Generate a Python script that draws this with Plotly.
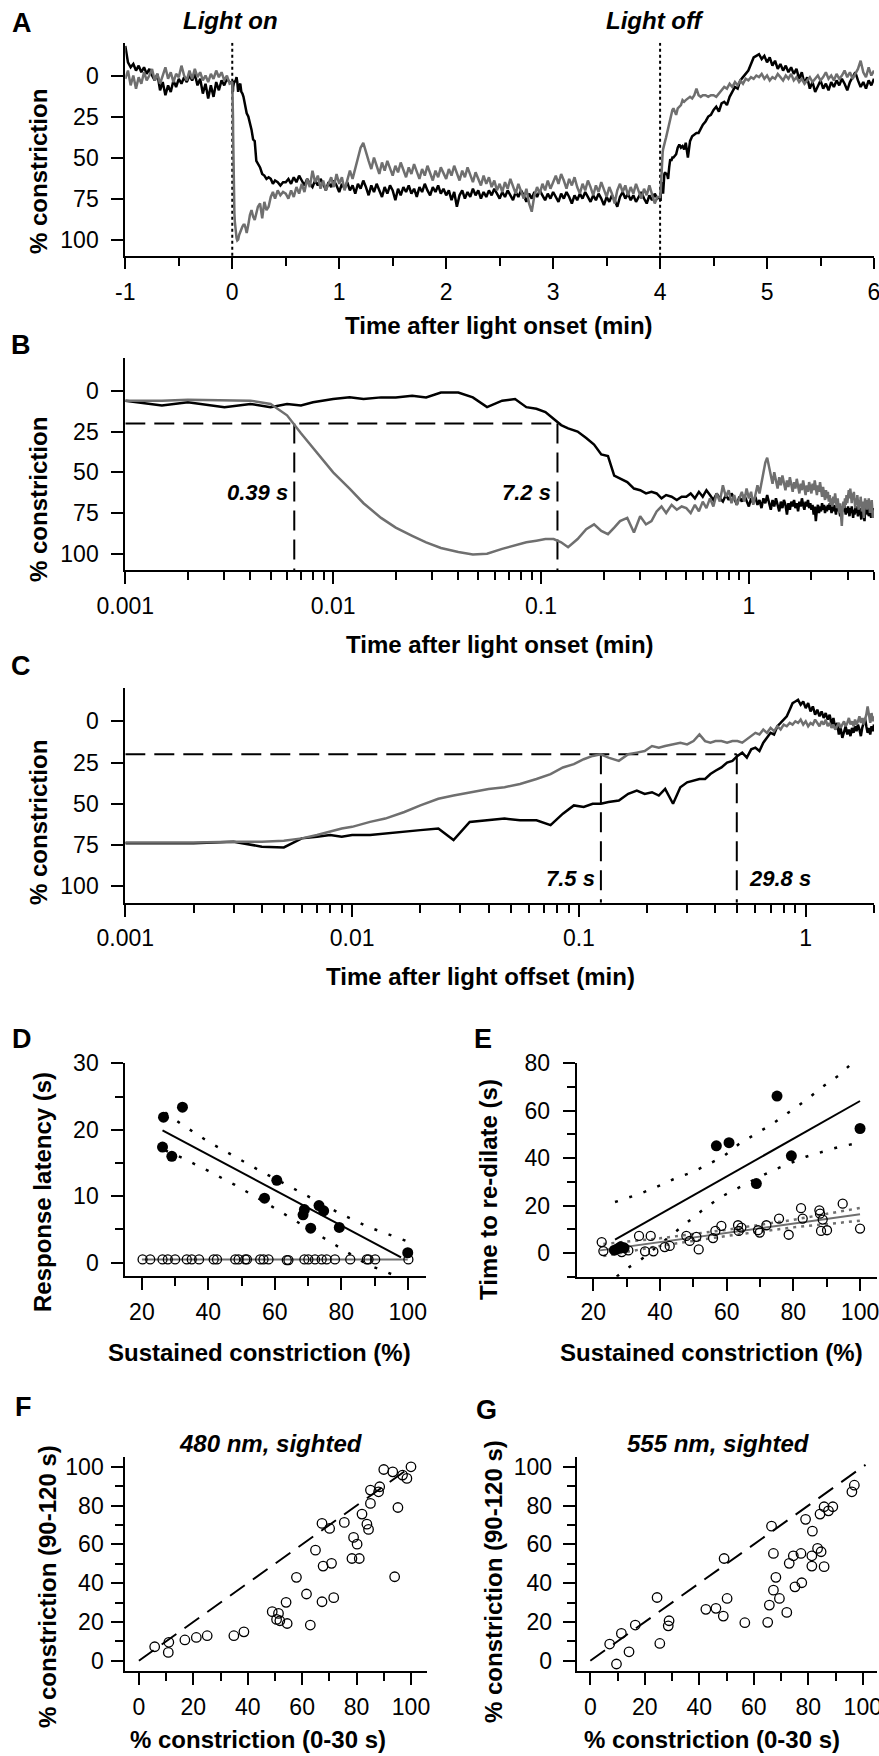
import numpy as np
import plotly.graph_objects as go

W, H = 879, 1756
FONT = "Liberation Sans, Arial, sans-serif"
GRAY = "#6f6f6f"

# ---------------- Panels A-C : pupil traces (time in min, % constriction) ----------------
t_pre = np.linspace(-1.0, -0.025, 40)
on_offsets = [0, 0.001, 0.0015, 0.002, 0.003, 0.004, 0.005, 0.006, 0.007, 0.008,
              0.009, 0.01, 0.012, 0.014, 0.017, 0.02, 0.024, 0.028, 0.033, 0.04,
              0.047, 0.055, 0.065, 0.075, 0.085, 0.095, 0.105, 0.115, 0.125, 0.135,
              0.15, 0.165, 0.18, 0.195, 0.21, 0.225, 0.24, 0.26, 0.28, 0.3,
              0.32, 0.34, 0.36, 0.38, 0.4, 0.425, 0.45, 0.475]
t_mid = np.linspace(0.5, 3.975, 140)
t_post = np.linspace(4.5, 6.0, 61)
LIGHT_OFF = 4.0

black_pre = [-18, -8, -5, -7, -3, -6, -2, -5, -1, -4,
             0, 3, -1, 9, 4, 12, 6, 10, 3, 7,
             2, 5, 1, 4, 0, 3, -1, 6, 2, 11,
             5, 14, 6, 13, 4, 9, 3, 6, 2, 4]
gray_pre = [2, -3, 6, 0, 8, 1, 5, -2, 3, 0,
            -4, 3, -1, 5, 0, -5, 2, -2, 4, -1,
            1, -6, 0, 3, -3, 2, -4, 1, -2, 3,
            0, 4, -1, 2, -3, 1, -2, 3, 0, 5]
black_on = [5, 6, 9, 7, 10, 8, 10, 8, 9, 7,
            6, 5, 4, 5, 4, 4, 3, 4, 1, 1,
            4, 10, 6, 5, 10, 11, 13, 17, 21, 23,
            25, 29, 33, 39, 40, 52, 54, 56, 60, 61,
            63, 62, 63, 66, 64, 65, 67, 65]
gray_on = [4, 6, 6, 5.5, 6, 6, 8, 15, 26, 35,
           43, 50, 60, 69, 78, 84, 89, 93, 96.5, 99,
           100.5, 100, 97, 95, 93, 92, 91, 91, 93, 96,
           91, 85, 82, 86, 88, 84, 80, 78, 87, 77,
           82, 80, 74, 71, 75, 70, 73, 71]
black_mid = [65, 63, 66, 62, 65, 61, 64, 67, 63, 66,
             68, 64, 67, 63, 66, 70, 65, 68, 64, 67,
             71, 66, 69, 65, 70, 67, 72, 66, 69, 64,
             68, 73, 67, 71, 66, 70, 74, 68, 72, 67,
             70, 76, 69, 73, 68, 71, 67, 72, 69, 74,
             68, 71, 66, 70, 73, 68, 71, 67, 72, 69,
             73, 70, 76, 71, 80, 73, 70, 75, 71, 74,
             69, 73, 70, 75, 71, 74, 70, 73, 69, 72,
             75, 71, 74, 70, 73, 76, 71, 74, 70, 73,
             77, 72, 75, 71, 74, 70, 73, 76, 72, 75,
             71, 74, 77, 72, 75, 71, 74, 78, 73, 76,
             72, 75, 71, 74, 77, 73, 76, 72, 75, 79,
             74, 77, 73, 76, 80, 74, 71, 75, 72, 76,
             73, 77, 74, 71, 75, 78, 73, 76, 72, 75]
gray_mid = [72, 75, 70, 74, 68, 72, 66, 71, 63, 68,
            58, 65, 61, 69, 64, 70, 66, 62, 68, 60,
            66, 62, 70, 64, 58, 63, 56, 50, 44, 41,
            47, 52, 57, 50, 55, 60, 53, 58, 52, 57,
            61, 55, 59, 53, 57, 62, 56, 60, 54, 59,
            63, 57, 61, 55, 60, 64, 58, 62, 56, 60,
            63, 57, 61, 55, 60, 64, 58, 62, 56, 61,
            65, 59, 63, 67, 61, 66, 62, 68, 64, 70,
            66, 71, 65, 69, 63, 68, 72, 66, 70, 75,
            69, 78, 83, 73, 68, 72, 66, 70, 64, 69,
            65, 61, 66, 60, 64, 69, 63, 67, 62, 68,
            72, 66, 70, 64, 68, 73, 67, 71, 65, 70,
            74, 68, 72, 78, 70, 66, 71, 67, 73, 68,
            72, 66, 70, 75, 69, 73, 67, 72, 78, 74]
black_off = [74, 74, 74, 74, 73, 76, 76.5, 71, 70, 69,
             70, 69, 69, 68, 67, 66, 65, 72, 61, 60,
             59, 60, 60, 63, 56, 51, 52, 50, 50, 49,
             48, 44, 42, 44, 43, 45, 41, 50, 40, 37,
             36, 35, 35, 32, 30, 28, 25, 24]
gray_off = [74, 73.5, 73.5, 73.5, 73, 73, 72.5, 71, 69, 67,
            65, 64, 61, 59, 55, 51, 47, 45, 43, 41,
            40, 38, 35, 32, 28, 26, 23, 21, 20, 22,
            24, 20, 19, 18, 15, 16, 15, 14, 13, 14,
            12, 8, 12, 13, 12, 12, 13, 12]
black_post = [21, 19, 22, 17, 16, 18, 13, 10, 7, 8,
              3, 1, -1, -3, -7, -11, -12, -13, -10, -12,
              -8, -11, -6, -9, -4, -7, -3, -6, -2, -5,
              -1, -4, 2, -2, 5, 1, 8, 4, 10, 6,
              3, 8, 5, 9, 4, 7, 3, 6, 2, 5,
              9, 4, 1, -2, 3, 7, 4, 8, 3, 6,
              2]
gray_post = [12, 13, 11, 9, 7, 8, 5, 7, 4, 6,
             3, 5, 2, 3, 1, 2, 0, 1, -1, 2,
             0, 3, 1, 2, -1, 1, 3, 0, 2, -1,
             3, 1, 4, 2, 5, 3, 1, 4, 2, 0,
             3, 1, -2, 2, 0, 3, -1, 2, 0, -3,
             1, -2, 2, -1, -4, -9, -2, 1, -5, 0,
             -3]

threshold = 20                 # % constriction criterion
onset_latency_s = [0.39, 7.2]  # gray, black (B)
offset_latency_s = [7.5, 29.8] # gray, black (C)

t_all = np.concatenate([t_pre, np.array(on_offsets), t_mid,
                        LIGHT_OFF + np.array(on_offsets), t_post])
black_all = np.array(black_pre + black_on + black_mid + black_off + black_post, float)
gray_all = np.array(gray_pre + gray_on + gray_mid + gray_off + gray_post, float)

# ---------------- Panel D ----------------
d_closed_x = [26.2, 26.5, 29.0, 32.2, 56.9, 60.6, 68.9, 68.5, 70.8, 73.3, 74.7, 79.4, 100]
d_closed_y = [17.4, 21.9, 16.0, 23.4, 9.7, 12.4, 8.0, 7.2, 5.2, 8.6, 7.8, 5.3, 1.5]
d_open_x = [20.2, 22.5, 26.2, 27.8, 30.0, 33.5, 35.0, 37.2, 41.6, 42.6, 48.1, 49.1, 51.1, 51.6,
            55.6, 56.6, 58.1, 63.6, 64.1, 68.9, 70.1, 72.1, 74.1, 75.6, 78.1, 82.7, 87.7, 88.2,
            90.2, 100.2]
d_open_y = [0.5, 0.5, 0.5, 0.5, 0.5, 0.5, 0.5, 0.5, 0.5, 0.5, 0.5, 0.5, 0.5, 0.5,
            0.5, 0.5, 0.5, 0.4, 0.4, 0.5, 0.5, 0.5, 0.5, 0.5, 0.5, 0.5, 0.5, 0.5,
            0.5, 0.5]
d_fit_x, d_fit_y = [26.2, 98.0], [19.9, 0.8]
d_up_x = [27, 32, 40, 48, 56, 64, 72, 80, 88, 96, 100]
d_up_y = [22.6, 20.8, 18.2, 15.9, 13.7, 11.6, 9.4, 7.3, 5.4, 3.9, 3.2]
d_lo_x = [27, 32, 40, 48, 56, 64, 72, 80, 88, 96.5]
d_lo_y = [16.9, 15.8, 13.8, 11.7, 9.4, 7.0, 4.6, 2.2, -0.3, -2.0]
d_gfit_x, d_gfit_y = [20, 100], [0.5, 0.5]

# ---------------- Panel E ----------------
e_closed_x = [26.3, 27.3, 28.2, 29.2, 56.9, 60.7, 68.9, 75.1, 79.4, 100.0]
e_closed_y = [1.2, 1.8, 2.6, 2.2, 45.2, 46.5, 29.3, 66.2, 41.0, 52.5]
e_open_x = [22.5, 23.0, 28.0, 28.5, 30.5, 33.7, 35.5, 37.2, 38.0, 41.4, 42.9, 47.9, 48.9, 50.9,
            51.6, 55.9, 56.6, 58.4, 63.4, 63.6, 64.4, 69.4, 69.9, 71.9, 75.7, 78.6, 82.3, 82.8,
            87.8, 88.0, 88.3, 90.1, 88.8, 94.8, 100.0]
e_open_y = [4.6, 0.8, 2.5, 0.4, 1.1, 7.2, 0.7, 7.2, 0.7, 2.5, 3.0, 7.2, 5.1, 6.8,
            1.5, 6.3, 9.3, 11.4, 11.7, 9.3, 10.7, 9.6, 8.6, 11.7, 14.5, 7.7, 18.9, 14.5,
            18.0, 16.6, 9.3, 9.6, 14.1, 20.8, 10.3]
e_fit_x, e_fit_y = [26.5, 100], [5.6, 64.1]
e_up_x = [26.5, 30, 34, 39, 44, 49.9, 53.9, 58.9, 63.9, 68.9, 73.9, 78.9, 83.8, 88.8, 93.8, 97.8]
e_up_y = [21.5, 23.0, 25.0, 27.9, 31.1, 34.2, 37.0, 40.6, 46.2, 50.4, 54.6, 59.6, 64.5, 70.1, 75.1, 80.3]
e_lo_x = [27, 30, 34, 39, 44, 48.9, 53.9, 58.9, 63.9, 68.9, 73.9, 78.9, 83.8, 88.8, 93.8, 98.8]
e_lo_y = [-10, -6.6, -3.1, 2.5, 8.2, 13.8, 19.4, 24.1, 27.9, 31.4, 34.9, 37.7, 40.6, 42.7, 44.8, 46.2]
e_gfit_x, e_gfit_y = [22, 100], [1.1, 16.3]
e_gup_x, e_gup_y = [23, 40, 60, 80, 100], [3.8, 6.2, 9.8, 14.0, 19.0]
e_glo_x, e_glo_y = [23, 40, 60, 80, 100], [-1.3, 3.0, 7.2, 10.8, 13.6]

# ---------------- Panel F (480 nm) ----------------
f_x = [5.8, 11.0, 10.8, 16.9, 21.1, 25.1, 34.9, 38.6, 49.0, 51.3, 50.6, 51.8, 54.5, 54.1,
       57.9, 61.6, 63.0, 64.9, 67.3, 67.7, 67.3, 70.1, 70.8, 71.6, 75.5, 78.3, 78.9, 80.2,
       81.0, 82.0, 83.8, 84.4, 85.1, 85.1, 88.1, 88.5, 90.0, 93.3, 94.0, 95.2, 96.9, 98.5, 100]
f_y = [7.2, 9.5, 4.3, 10.7, 12.0, 12.9, 12.9, 14.9, 25.3, 24.4, 21.3, 20.6, 19.2, 30.1,
       43.0, 34.4, 18.4, 57.0, 30.4, 48.8, 70.8, 68.2, 50.2, 32.5, 71.3, 52.7, 63.6, 60.1,
       52.7, 75.6, 70.4, 67.7, 81.1, 88.0, 87.1, 89.7, 98.6, 97.4, 43.3, 79.0, 95.7, 94.0, 100]

# ---------------- Panel G (555 nm) ----------------
g_x = [7.1, 9.6, 11.4, 14.2, 16.5, 24.5, 25.5, 28.6, 28.9, 42.4, 46.1, 48.8, 49.1, 50.2,
       56.7, 65.1, 65.7, 66.5, 67.2, 67.2, 68.1, 69.4, 72.1, 73.0, 74.5, 75.1, 77.3, 77.6,
       79.0, 81.3, 81.3, 81.5, 83.4, 84.3, 84.7, 85.8, 85.8, 87.4, 89.0, 96.0, 96.9]
g_y = [8.6, -1.7, 14.1, 4.6, 18.4, 32.6, 8.9, 18.0, 20.6, 26.5, 27.0, 23.0, 52.7, 32.1,
       19.6, 19.8, 28.7, 69.4, 55.3, 36.4, 43.0, 32.1, 24.9, 50.2, 54.1, 38.1, 55.3, 40.2,
       72.9, 54.1, 48.8, 66.8, 57.9, 75.6, 56.2, 48.5, 79.4, 77.3, 79.4, 87.1, 90.5]
f_unity = [0, 100]
g_unity = [0, 101]

a_ticks = [-1, 0, 1, 2, 3, 4, 5, 6]
a_ticktext = ["-1", "0", "1", "2", "3", "4", "5", "6"]

# ======================= figure =======================
def dx(a, b):
    return [a / W, b / W]

def dy(top, bottom):
    return [1 - bottom / H, 1 - top / H]

TICKFONT = dict(family=FONT, size=23, color="black")
MINOR = dict(ticks="outside", ticklen=8, tickwidth=2, tickcolor="black", showgrid=False)
XSO = 2  # x tick label standoff

def axis(**kw):
    base = dict(showline=True, linecolor="black", linewidth=2, ticks="outside", ticklen=12,
                tickwidth=2, tickcolor="black", showgrid=False, zeroline=False,
                tickfont=TICKFONT, mirror=False, automargin=False, ticklabeloverflow="allow")
    base.update(kw)
    return base

def log_minor(lo_dec, hi):
    vals = []
    for d in range(lo_dec, 1):
        for m in range(2, 10):
            v = m * 10.0 ** d
            if v <= hi * 1.0001:
                vals.append(v)
    return vals

fig = go.Figure()

def line(x, y, ax, color="black", width=2, dash="solid"):
    fig.add_trace(go.Scatter(x=list(x), y=list(y), mode="lines", xaxis="x" + ax, yaxis="y" + ax,
                             line=dict(color=color, width=width, dash=dash), hoverinfo="skip"))

def pts(x, y, ax, filled, size):
    if filled:
        mk = dict(symbol="circle", size=size, color="black", line=dict(color="black", width=0))
    else:
        mk = dict(symbol="circle", size=size, color="rgba(255,255,255,0)",
                  line=dict(color="black", width=1.3))
    fig.add_trace(go.Scatter(x=x, y=y, mode="markers", xaxis="x" + ax, yaxis="y" + ax,
                             marker=mk, hoverinfo="skip"))

TW = 2.5  # trace width

# ---- A ----
for tv in [0.0, LIGHT_OFF]:
    line([tv, tv], [-20, 110], "", width=2, dash="dot")
line(t_all, black_all, "", "black", TW)
line(t_all, gray_all, "", GRAY, TW)

# ---- B ----
mB = (t_all > 0) & (t_all <= 4.0)
lat_on = [s / 60 for s in onset_latency_s]
line([0.001, lat_on[1]], [threshold, threshold], "2", width=2, dash="20px,9px")
for lv in lat_on:
    line([lv, lv], [threshold, 110], "2", width=2, dash="20px,9px")
line(t_all[mB], black_all[mB], "2", "black", TW)
line(t_all[mB], gray_all[mB], "2", GRAY, TW)

# ---- C ----
mC = t_all > LIGHT_OFF
t_rel = t_all[mC] - LIGHT_OFF
lat_off = [s / 60 for s in offset_latency_s]
line([0.001, lat_off[1]], [threshold, threshold], "3", width=2, dash="20px,9px")
for lv in lat_off:
    line([lv, lv], [threshold, 110], "3", width=2, dash="20px,9px")
line(t_rel, black_all[mC], "3", "black", TW)
line(t_rel, gray_all[mC], "3", GRAY, TW)

# ---- D ----
line(d_up_x, d_up_y, "4", width=2.5, dash="3px,12px")
line(d_lo_x, d_lo_y, "4", width=2.5, dash="3px,12px")
line(d_fit_x, d_fit_y, "4", width=2)
line(d_gfit_x, d_gfit_y, "4", GRAY, 2)
pts(d_open_x, d_open_y, "4", False, 9)
pts(d_closed_x, d_closed_y, "4", True, 11)

# ---- E ----
line(e_up_x, e_up_y, "5", width=2.5, dash="3px,12px")
line(e_lo_x, e_lo_y, "5", width=2.5, dash="3px,12px")
line(e_fit_x, e_fit_y, "5", width=2)
line(e_gup_x, e_gup_y, "5", GRAY, 2.5, "3px,5px")
line(e_glo_x, e_glo_y, "5", GRAY, 2.5, "3px,5px")
line(e_gfit_x, e_gfit_y, "5", GRAY, 2)
pts(e_open_x, e_open_y, "5", False, 9)
pts(e_closed_x, e_closed_y, "5", True, 11)

# ---- F, G ----
line(f_unity, f_unity, "6", width=2, dash="18px,10px")
pts(f_x, f_y, "6", False, 9.5)
line(g_unity, g_unity, "7", width=2, dash="18px,10px")
pts(g_x, g_y, "7", False, 9.5)

TRACE_Y = dict(range=[110, -20], tickmode="array", tickvals=[0, 25, 50, 75, 100],
               ticklabelstandoff=8)

fig.update_layout(
    template="none",
    width=W, height=H, margin=dict(l=0, r=0, t=0, b=0, pad=0, autoexpand=False),
    paper_bgcolor="white", plot_bgcolor="white", showlegend=False,
    font=dict(family=FONT, color="black"),
    xaxis=axis(domain=dx(125.3, 874), anchor="y", range=[-1, 6], tickmode="array",
               tickvals=a_ticks, ticktext=a_ticktext, ticklen=11, ticklabelstandoff=XSO + 1,
               minor=dict(MINOR, dtick=0.5, tick0=-1)),
    yaxis=axis(domain=dy(42.7, 256), anchor="x", **TRACE_Y),
    xaxis2=axis(domain=dx(125.3, 874), anchor="y2", type="log", range=[-3, np.log10(4)],
                tickmode="array", tickvals=[0.001, 0.01, 0.1, 1],
                ticktext=["0.001", "0.01", "0.1", "1"], ticklabelstandoff=XSO,
                minor=dict(MINOR, tickmode="array", tickvals=log_minor(-3, 4))),
    yaxis2=axis(domain=dy(358.3, 570), anchor="x2", **TRACE_Y),
    xaxis3=axis(domain=dx(125.3, 874), anchor="y3", type="log", range=[-3, np.log10(2)],
                tickmode="array", tickvals=[0.001, 0.01, 0.1, 1],
                ticktext=["0.001", "0.01", "0.1", "1"], ticklabelstandoff=XSO,
                minor=dict(MINOR, tickmode="array", tickvals=log_minor(-3, 2))),
    yaxis3=axis(domain=dy(688.3, 902.7), anchor="x3", **TRACE_Y),
    xaxis4=axis(domain=dx(125.3, 426), anchor="y4", range=[15, 105.5], tickmode="linear",
                tick0=20, dtick=20, ticklabelstandoff=XSO, minor=dict(MINOR, dtick=10, tick0=20)),
    yaxis4=axis(domain=dy(1063.3, 1276), anchor="x4", range=[-2, 30], tickmode="linear",
                tick0=0, dtick=10, ticklabelstandoff=8, minor=dict(MINOR, dtick=5, tick0=0)),
    xaxis5=axis(domain=dx(576.7, 876.7), anchor="y5", range=[15, 105], tickmode="linear",
                tick0=20, dtick=20, ticklabelstandoff=XSO, minor=dict(MINOR, dtick=10, tick0=20)),
    yaxis5=axis(domain=dy(1063.3, 1276.7), anchor="x5", range=[-10, 80], tickmode="linear",
                tick0=0, dtick=20, ticklabelstandoff=8, minor=dict(MINOR, dtick=10, tick0=0)),
    xaxis6=axis(domain=dx(125.3, 427.3), anchor="y6", range=[-5, 106], tickmode="linear",
                tick0=0, dtick=20, ticklabelstandoff=XSO, minor=dict(MINOR, dtick=10, tick0=0)),
    yaxis6=axis(domain=dy(1456.7, 1671), anchor="x6", range=[-5.3, 105.2], tickmode="linear",
                tick0=0, dtick=20, ticklabelstandoff=3, minor=dict(MINOR, dtick=10, tick0=0)),
    xaxis7=axis(domain=dx(576.7, 876.7), anchor="y7", range=[-5, 105.1], tickmode="linear",
                tick0=0, dtick=20, ticklabelstandoff=XSO, minor=dict(MINOR, dtick=10, tick0=0)),
    yaxis7=axis(domain=dy(1456.7, 1671), anchor="x7", range=[-5.3, 105.2], tickmode="linear",
                tick0=0, dtick=20, ticklabelstandoff=6, minor=dict(MINOR, dtick=10, tick0=0)),
)

anns = []

def ann(text, x, y, size, xanchor="center", angle=0):
    anns.append(dict(text=text, x=x / W, y=1 - y / H, xref="paper", yref="paper",
                     xanchor=xanchor, yanchor="middle", showarrow=False, textangle=angle,
                     font=dict(family=FONT, size=size, color="black")))

# panel letters
for letter, lx, ly in [("A", 22, 23), ("B", 21, 345), ("C", 21, 666), ("D", 22, 1039),
                       ("E", 483, 1039), ("F", 23, 1407), ("G", 486, 1410)]:
    ann("<b>%s</b>" % letter, lx, ly, 27)

ann("<b><i>Light on</i></b>", 230, 21, 24)
ann("<b><i>Light off</i></b>", 655, 21, 24)

# axis titles
ann("<b>Time after light onset (min)</b>", 499, 326, 24)
ann("<b>Time after light onset (min)</b>", 500, 645, 24)
ann("<b>Time after light offset (min)</b>", 481, 976, 24)
for yy in [172, 500, 823]:
    ann("<b>% constriction</b>", 38, yy, 24, angle=-90)
ann("<b>Response latency (s)</b>", 42, 1192, 24, angle=-90)
ann("<b>Time to re-dilate (s)</b>", 488, 1190, 24, angle=-90)
ann("<b>Sustained constriction (%)</b>", 259, 1352, 24)
ann("<b>Sustained constriction (%)</b>", 711, 1352, 24)
ann("<b>% constriction (90-120 s)</b>", 47, 1587, 24, angle=-90)
ann("<b>% constriction (90-120 s)</b>", 493, 1582, 24, angle=-90)
ann("<b>% constriction (0-30 s)</b>", 258, 1739, 24)
ann("<b>% constriction (0-30 s)</b>", 712, 1739, 24)
ann("<b><i>480 nm, sighted</i></b>", 271, 1443, 24)
ann("<b><i>555 nm, sighted</i></b>", 718, 1443, 24)

# latency labels placed at the latency lines (data coordinates)
for s, ax, yv, side in [(onset_latency_s[0], "2", 62.5, "right"),
                        (onset_latency_s[1], "2", 62.5, "right"),
                        (offset_latency_s[0], "3", 95.5, "right"),
                        (offset_latency_s[1], "3", 95.5, "left")]:
    anns.append(dict(text="<b><i>%g s</i></b>" % s, x=np.log10(s / 60), y=yv,
                     xref="x" + ax, yref="y" + ax, xanchor=side, yanchor="middle",
                     xshift=-4 if side == "right" else 10, showarrow=False,
                     font=dict(family=FONT, size=22, color="black")))

fig.update_layout(annotations=anns)
fig.write_html("out.html", config={"displayModeBar": False},
               post_script="document.body.style.margin='0';document.body.style.overflow='hidden';")
